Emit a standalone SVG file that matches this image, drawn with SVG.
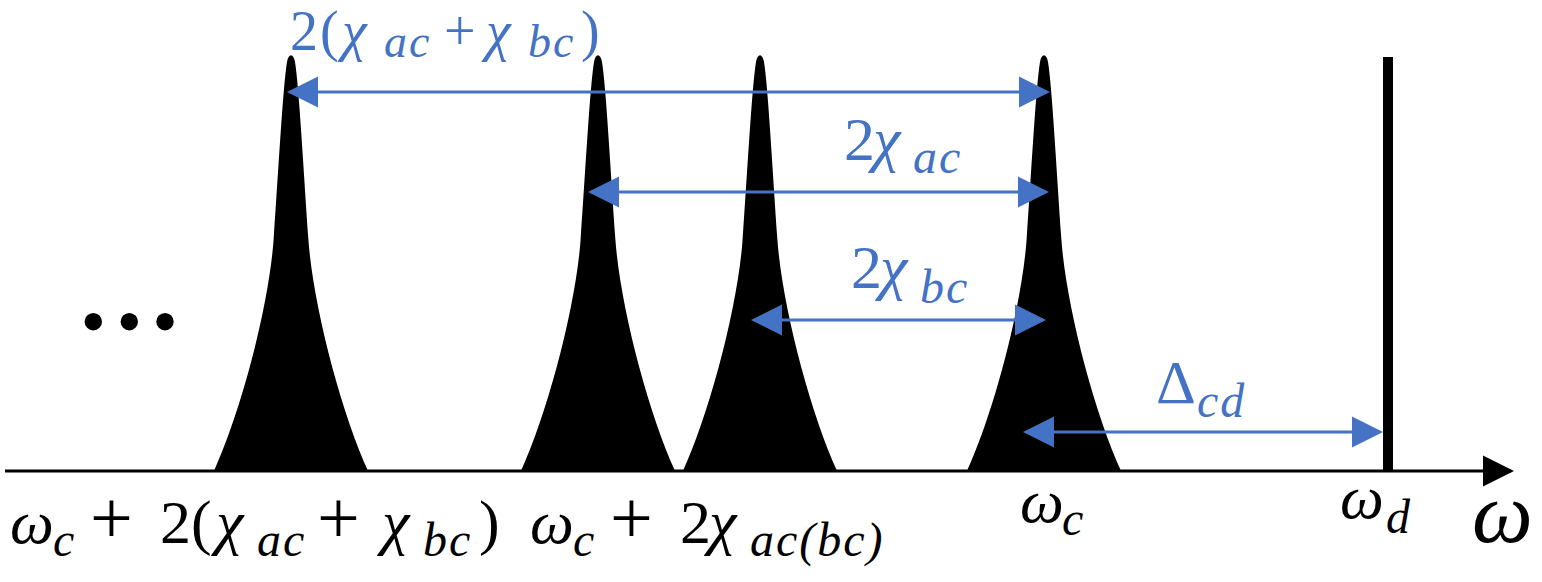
<svg xmlns="http://www.w3.org/2000/svg" xmlns:xlink="http://www.w3.org/1999/xlink" width="1542" height="582" viewBox="0 0 1542 582">
<style>
  text { font-family: 'Liberation Serif', 'DejaVu Serif', serif; }
  .i { font-style: italic; }
  .blue { fill: #4472C4; }
  .blk { fill: #000000; }
  .arr { stroke: #4472C4; stroke-width: 3; fill: none; }
  .axis { stroke: #000000; stroke-width: 3; fill: none; }
</style>
<defs>
  <path id="peak" d="M-77.5,0 C-50,-60 -22.5,-165 -17.5,-231 C-12,-310 -8,-385 -4,-410 C-2.5,-419 2.5,-419 4,-410 C8,-385 12,-310 17.5,-231 C22.5,-165 50,-60 77.5,0 Z" fill="#000000"/>
  <marker id="bh" markerUnits="userSpaceOnUse" markerWidth="32" markerHeight="32" refX="28" refY="15.5" orient="auto-start-reverse" viewBox="0 0 32 31">
    <path d="M0,0 L31,15.5 L0,31 Z" fill="#4472C4"/>
  </marker>
  <marker id="kh" markerUnits="userSpaceOnUse" markerWidth="32" markerHeight="32" refX="28" refY="15.5" orient="auto" viewBox="0 0 32 31">
    <path d="M0,0 L31,15.5 L0,31 Z" fill="#000000"/>
  </marker>
</defs>

<g id="peak-1"><use xlink:href="#peak" href="#peak" transform="translate(291,472)"/></g>
<g id="peak-2"><use xlink:href="#peak" href="#peak" transform="translate(598,472)"/></g>
<g id="peak-3"><use xlink:href="#peak" href="#peak" transform="translate(760,472)"/></g>
<g id="peak-4"><use xlink:href="#peak" href="#peak" transform="translate(1044,472)"/></g>
<g id="drive-line"><rect x="1383" y="57" width="10" height="414" fill="#000000"/></g>
<g id="ellipsis">
  <circle cx="93.3" cy="321.7" r="8.7" fill="#000000"/>
  <circle cx="129.3" cy="321.7" r="8.7" fill="#000000"/>
  <circle cx="165" cy="321.7" r="8.7" fill="#000000"/>
</g>

<g id="connectors">
  <line class="axis" x1="5" y1="471" x2="1511" y2="471" marker-end="url(#kh)"/>
  <line class="arr" x1="290" y1="92" x2="1047" y2="92" marker-start="url(#bh)" marker-end="url(#bh)"/>
  <line class="arr" x1="591" y1="192" x2="1046" y2="192" marker-start="url(#bh)" marker-end="url(#bh)"/>
  <line class="arr" x1="754" y1="320" x2="1043" y2="320" marker-start="url(#bh)" marker-end="url(#bh)"/>
  <line class="arr" x1="1026" y1="432" x2="1380" y2="432" marker-start="url(#bh)" marker-end="url(#bh)"/>
</g>

<g id="label-sum" class="blue">
  <text font-size="56"><tspan x="290" y="50">2</tspan><tspan x="320" y="50">(</tspan><tspan class="i" x="342" y="50">χ</tspan><tspan class="i" x="384" y="57" font-size="46" letter-spacing="2">ac</tspan><tspan x="444" y="50">+</tspan><tspan class="i" x="486" y="50">χ</tspan><tspan class="i" x="528" y="57" font-size="46" letter-spacing="2">bc</tspan><tspan x="581" y="50">)</tspan></text>
</g>
<g id="label-2chiac" class="blue">
  <text font-size="62"><tspan x="844" y="160">2</tspan><tspan class="i" x="873" y="160">χ</tspan><tspan class="i" x="913" y="173" font-size="48" letter-spacing="2">ac</tspan></text>
</g>
<g id="label-2chibc" class="blue">
  <text font-size="62"><tspan x="851" y="288">2</tspan><tspan class="i" x="880" y="288">χ</tspan><tspan class="i" x="920" y="303" font-size="48" letter-spacing="2">bc</tspan></text>
</g>
<g id="label-delta" class="blue">
  <text font-size="62"><tspan x="1156" y="403">Δ</tspan><tspan class="i" x="1197" y="417" font-size="48" letter-spacing="2">cd</tspan></text>
</g>

<g id="label-peak1" class="blk">
  <text font-size="62"><tspan class="i" x="10" y="543">ω</tspan><tspan class="i" x="53" y="556" font-size="48">c</tspan><tspan x="90" y="543" font-size="76">+</tspan><tspan x="160" y="543">2</tspan><tspan x="191" y="543">(</tspan><tspan class="i" x="216" y="543">χ</tspan><tspan class="i" x="257" y="556" font-size="48" letter-spacing="2">ac</tspan><tspan x="317" y="543" font-size="76">+</tspan><tspan class="i" x="382" y="543">χ</tspan><tspan class="i" x="423" y="556" font-size="48" letter-spacing="2">bc</tspan><tspan x="479" y="543">)</tspan></text>
</g>
<g id="label-peak23" class="blk">
  <text font-size="62"><tspan class="i" x="530" y="543">ω</tspan><tspan class="i" x="573" y="556" font-size="48">c</tspan><tspan x="610" y="543" font-size="76">+</tspan><tspan x="680" y="543">2</tspan><tspan class="i" x="709" y="543">χ</tspan><tspan class="i" x="750" y="556" font-size="48" letter-spacing="2">ac(bc)</tspan></text>
</g>
<g id="label-omegac" class="blk">
  <text font-size="62"><tspan class="i" x="1020" y="522">ω</tspan><tspan class="i" x="1062" y="535" font-size="48">c</tspan></text>
</g>
<g id="label-omegad" class="blk">
  <text font-size="62"><tspan class="i" x="1340" y="518">ω</tspan><tspan class="i" x="1386" y="533" font-size="48">d</tspan></text>
</g>
<g id="label-omega" class="blk">
  <text class="i" font-size="86" x="1472" y="542">ω</text>
</g>
</svg>
